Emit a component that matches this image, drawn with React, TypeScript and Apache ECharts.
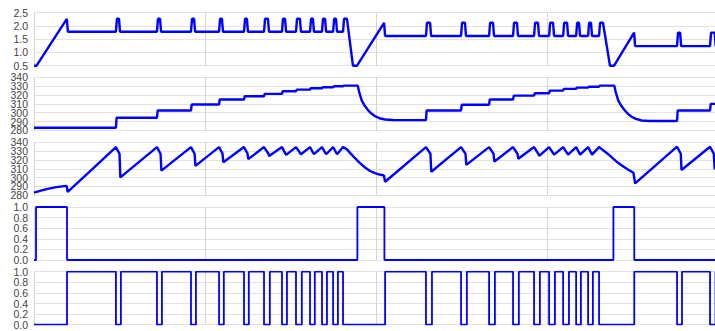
import React, { useEffect, useRef } from "react";
import * as echarts from "echarts";

// time axis (seconds) and y tick settings
const xMin = 0;
const xMax = 398.2;
const xInterval = 100;

const yMins = [0.5, 280, 280, 0, 0];
const yMaxs = [2.5, 340, 340, 1, 1];
const yIntervals = [0.5, 10, 10, 0.2, 0.2];

// tick labels per panel
const ticksPressure = ["0.5", "1.0", "1.5", "2.0", "2.5"];
const ticksTemp = ["280", "290", "300", "310", "320", "330", "340"];
const ticksState = ["0.0", "0.2", "0.4", "0.6", "0.8", "1.0"];
const tickLabels = [ticksPressure, ticksTemp, ticksTemp, ticksState, ticksState];

// Panel 1: pressure-like signal
const pressure: number[][] = [
  [0, 0.5], [1.5, 0.5], [19.2, 2.27], [19.8, 1.78],
  [47.9, 1.78], [48.5, 2.27], [49.7, 2.27], [50.3, 1.78],
  [71.9, 1.78], [72.5, 2.27], [73.7, 2.27], [74.3, 1.78],
  [91.8, 1.78], [92.4, 2.27], [93.6, 2.27], [94.2, 1.78],
  [108.2, 1.78], [108.8, 2.27], [109.9, 2.27], [110.5, 1.78],
  [122.8, 1.78], [123.4, 2.27], [124.5, 2.27], [125.1, 1.78],
  [134.5, 1.78], [135.1, 2.27], [136.8, 2.27], [137.4, 1.78],
  [145.0, 1.78], [145.6, 2.27], [146.8, 2.27], [147.4, 1.78],
  [153.2, 1.78], [153.8, 2.27], [155.5, 2.27], [156.1, 1.78],
  [161.4, 1.78], [162.0, 2.27], [163.1, 2.27], [163.7, 1.78],
  [168.4, 1.78], [169.0, 2.27], [170.2, 2.27], [170.8, 1.78],
  [174.9, 1.78], [175.5, 2.27], [176.6, 2.27], [177.2, 1.78],
  [180.7, 1.78], [181.3, 2.27], [183.0, 2.27], [186.5, 0.5], [188.9, 0.5],
  [204.7, 2.12], [205.3, 1.62],
  [229.2, 1.62], [229.8, 2.12], [231.6, 2.12], [232.2, 1.62],
  [249.7, 1.62], [250.3, 2.12], [252.0, 2.12], [252.6, 1.62],
  [266.1, 1.62], [266.7, 2.12], [268.4, 2.12], [269.0, 1.62],
  [280.1, 1.62], [280.7, 2.12], [282.4, 2.12], [283.0, 1.62],
  [292.4, 1.62], [293.0, 2.12], [294.7, 2.12], [295.3, 1.62],
  [301.2, 1.62], [301.8, 2.12], [303.5, 2.12], [304.1, 1.62],
  [309.4, 1.62], [310.0, 2.12], [311.7, 2.12], [312.3, 1.62],
  [317.0, 1.62], [317.6, 2.12], [318.7, 2.12], [319.3, 1.62],
  [324.0, 1.62], [324.6, 2.12], [325.7, 2.12], [326.3, 1.62],
  [330.4, 1.62], [331.0, 2.12], [332.7, 2.12], [336.8, 0.5], [339.2, 0.5],
  [350.9, 1.75], [351.5, 1.24],
  [376.0, 1.24], [376.6, 1.75], [377.8, 1.75], [378.4, 1.24],
  [395.3, 1.24], [395.9, 1.75], [398.0, 1.75], [398.6, 1.24], [402, 1.24],
];

// Panel 2: stepped temperature
const tempSteps: number[][] = [
  [0, 283], [47.9, 283], [48.3, 294.4], [71.9, 294.4], [72.3, 302.5],
  [91.8, 302.5], [92.2, 309.3], [108.2, 309.3], [108.6, 315],
  [122.8, 315], [123.2, 318.7], [134.5, 318.7], [134.9, 321.3],
  [145.0, 321.3], [145.4, 324.3], [153.2, 324.3], [153.6, 326.2],
  [161.4, 326.2], [161.8, 327.7], [168.4, 327.7], [168.8, 328.8],
  [174.9, 328.8], [175.3, 329.9], [180.7, 329.9], [181.1, 330.7],
  [189.3, 330.7], [190.2, 323], [191.6, 314], [193.5, 307.5], [195.5, 302.5],
  [197.5, 298.8], [199.4, 296], [202, 293.8], [205.3, 292.3], [210, 291.7],
  [229.2, 291.6], [229.6, 302.5], [249.7, 302.5], [250.1, 309],
  [266.1, 309], [266.5, 315], [280.1, 315], [280.5, 319.4],
  [292.4, 319.4], [292.8, 322], [301.2, 322], [301.6, 325],
  [309.4, 325], [309.8, 327], [317.0, 327], [317.4, 328.4],
  [324.0, 328.4], [324.4, 329.5], [330.4, 329.5], [330.8, 330.7],
  [339.3, 330.7], [340.2, 323], [341.6, 314], [343.5, 307.5], [345.5, 302.5],
  [347.5, 298.5], [349.4, 295.5], [352, 293], [355.3, 291.2], [360, 290.6],
  [376.0, 290.6], [376.4, 302.5], [395.3, 302.5], [395.7, 310], [402, 310],
];

// Panel 3: sawtooth temperature
const tempSaw: number[][] = [
  [0, 283], [4, 285.2], [8, 287.3], [13, 289.2], [19.1, 290.7], [19.7, 283.8],
  [33.8, 309.2], [47.9, 334.6], [50.0, 327], [50.5, 300.3],
  [71.9, 334.6], [74.0, 327], [74.5, 307.9],
  [91.8, 334.6], [93.9, 327], [94.4, 313.3],
  [108.2, 334.6], [110.2, 327.5], [110.7, 317.5],
  [122.8, 334.6], [124.8, 327.5], [125.3, 321],
  [134.5, 334.6], [137.1, 327], [137.5, 324.4],
  [145.0, 334.6], [147.2, 326.5], [147.6, 326],
  [153.2, 334.6], [156.1, 326.5],
  [161.4, 334.6], [163.7, 326.5],
  [168.4, 334.6], [170.8, 326.5],
  [174.9, 334.6], [177.2, 326.5],
  [180.7, 334.6], [183.0, 332], [184.8, 328], [187.7, 322], [190.6, 316.5],
  [193.6, 311.5], [196.5, 307.5], [199.4, 305], [202, 303.5], [204.6, 302.5],
  [205.3, 295.3],
  [229.2, 334.6], [231.8, 327], [232.3, 306.7],
  [249.7, 334.6], [252.3, 327], [252.8, 314.4],
  [266.1, 334.6], [268.7, 327], [269.2, 318.2],
  [280.1, 334.6], [282.7, 327], [283.2, 321.3],
  [292.4, 334.6], [295.0, 326.5], [295.4, 324.7],
  [301.2, 334.6], [304.1, 326],
  [309.4, 334.6], [312.3, 326],
  [317.0, 334.6], [319.3, 326],
  [324.0, 334.6], [326.3, 326],
  [330.4, 334.6], [332.8, 331], [335.8, 326.5], [338.8, 321.3], [341.7, 316.5],
  [344.6, 312.5], [347.5, 309], [350.5, 305.5], [351.5, 293.4],
  [376.0, 335], [378.2, 327], [378.6, 308.6],
  [395.3, 335], [397.5, 327], [398.0, 310], [402, 312],
];

// Panel 4: heater state
const heater: number[][] = [
  [0, 0], [1.2, 0], [1.2, 1], [19.3, 1], [19.3, 0],
  [189.1, 0], [189.1, 1], [204.9, 1], [204.9, 0],
  [338.8, 0], [338.8, 1], [351.0, 1], [351.0, 0], [402, 0],
];

// Panel 5: valve state
const valve: number[][] = [
  [0, 0], [19.3, 0], [19.3, 1],
  [47.9, 1], [47.9, 0], [50.8, 0], [50.8, 1],
  [71.9, 1], [71.9, 0], [74.8, 0], [74.8, 1],
  [91.8, 1], [91.8, 0], [94.7, 0], [94.7, 1],
  [108.2, 1], [108.2, 0], [111.0, 0], [111.0, 1],
  [122.8, 1], [122.8, 0], [125.6, 0], [125.6, 1],
  [134.5, 1], [134.5, 0], [137.9, 0], [137.9, 1],
  [145.0, 1], [145.0, 0], [147.9, 0], [147.9, 1],
  [153.2, 1], [153.2, 0], [156.6, 0], [156.6, 1],
  [161.4, 1], [161.4, 0], [164.2, 0], [164.2, 1],
  [168.4, 1], [168.4, 0], [171.3, 0], [171.3, 1],
  [174.9, 1], [174.9, 0], [177.7, 0], [177.7, 1],
  [180.7, 1], [180.7, 0], [205.3, 0], [205.3, 1],
  [229.2, 1], [229.2, 0], [232.7, 0], [232.7, 1],
  [249.7, 1], [249.7, 0], [253.1, 0], [253.1, 1],
  [266.1, 1], [266.1, 0], [269.5, 0], [269.5, 1],
  [280.1, 1], [280.1, 0], [283.5, 0], [283.5, 1],
  [292.4, 1], [292.4, 0], [295.8, 0], [295.8, 1],
  [301.2, 1], [301.2, 0], [304.6, 0], [304.6, 1],
  [309.4, 1], [309.4, 0], [312.8, 0], [312.8, 1],
  [317.0, 1], [317.0, 0], [319.8, 0], [319.8, 1],
  [324.0, 1], [324.0, 0], [326.8, 0], [326.8, 1],
  [330.4, 1], [330.4, 0], [351.0, 0], [351.0, 1],
  [376.0, 1], [376.0, 0], [378.9, 0], [378.9, 1],
  [395.3, 1], [395.3, 0], [398.5, 0], [398.5, 1], [402, 1],
];

const seriesData = [pressure, tempSteps, tempSaw, heater, valve];
const lineWidths = [2.4, 2.4, 2.4, 1.8, 1.8];
const labelSizes = [10.5, 10.5, 10.5, 10.5, 10.5];

const panelTops = [12.7, 77.4, 142.3, 207, 271.7];
const panelHeight = 53;

export default function App() {
  const ref = useRef<HTMLDivElement>(null);
  useEffect(() => {
    document.body.style.margin = "0";
    if (!ref.current) return;
    const chart = echarts.init(ref.current, undefined, { renderer: "svg" });
    const grids = panelTops.map((top) => ({
      left: 34,
      right: 0,
      top,
      height: panelHeight,
      containLabel: false,
    }));
    const xAxes = seriesData.map((_, i) => ({
      type: "value",
      gridIndex: i,
      min: xMin,
      max: xMax,
      interval: xInterval,
      axisLine: { show: false },
      axisTick: { show: false },
      axisLabel: { show: false },
      splitLine: { show: true, lineStyle: { color: "#d4d4d4", width: 1 } },
    }));
    const yAxes = seriesData.map((_, i) => ({
      type: "value",
      gridIndex: i,
      min: yMins[i],
      max: yMaxs[i],
      interval: yIntervals[i],
      axisLine: { show: false },
      axisTick: { show: false },
      axisLabel: { show: false },
      splitLine: { show: true, lineStyle: { color: "#e2e2e2", width: 1 } },
    }));
    const series = seriesData.map((d, i) => ({
      type: "line",
      xAxisIndex: i,
      yAxisIndex: i,
      data: d,
      showSymbol: false,
      symbol: "none",
      silent: true,
      lineStyle: { color: "#0000ff", width: lineWidths[i] },
    }));
    chart.setOption({
      animation: false,
      backgroundColor: "#ffffff",
      grid: grids,
      xAxis: xAxes,
      yAxis: yAxes,
      series,
    });
    // y tick labels placed through the axes' own scales
    const texts: any[] = [];
    tickLabels.forEach((labels, i) => {
      const x0 = chart.convertToPixel({ xAxisIndex: i }, xMin) as number;
      labels.forEach((lab) => {
        const y = chart.convertToPixel({ yAxisIndex: i }, parseFloat(lab)) as number;
        texts.push({
          type: "text",
          silent: true,
          x: x0 - 6,
          y,
          style: {
            text: lab,
            align: "right",
            verticalAlign: "middle",
            fill: "#444",
            fontSize: labelSizes[i],
            fontFamily: "'Liberation Sans', Arial, sans-serif",
          },
        });
      });
    });
    chart.setOption({ graphic: texts });
    return () => chart.dispose();
  }, []);
  return <div ref={ref} style={{ width: 715, height: 331 }} />;
}
